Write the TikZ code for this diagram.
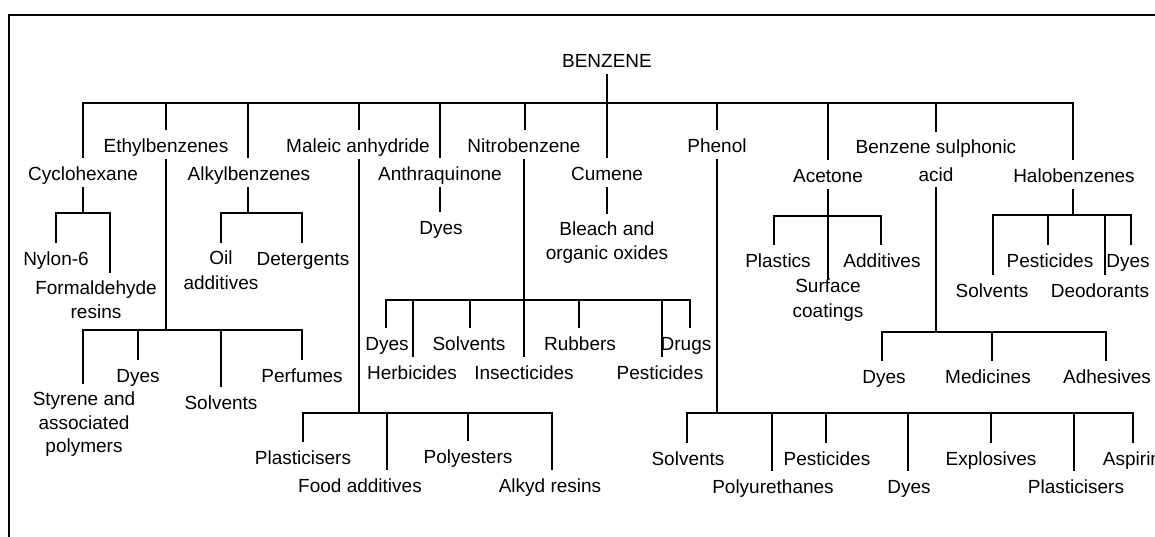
\documentclass[tikz,border=0pt]{standalone}
\usepackage{fontspec}
\setmainfont{Liberation Sans}
\begin{document}
\begin{tikzpicture}[x=1pt,y=-1pt,
  lbl/.style={inner sep=0pt, text height=14pt, text depth=4pt, font=\fontsize{19pt}{23.5pt}\selectfont},
  mlbl/.style={inner sep=0pt, align=center, anchor=north, font=\fontsize{19pt}{23.5pt}\selectfont},
  ln/.style={line width=1.6pt},
  dn/.style={ln, shorten >=8pt},
  up/.style={ln, shorten <=3pt},
  updn/.style={ln, shorten <=3pt, shorten >=8pt},
  bar/.style={ln, shorten <=8pt, shorten >=8pt}]
\useasboundingbox (0,0) rectangle (1155,536);
% frame
\draw[line width=1.8pt] (9,540) -- (9,15) -- (1160,15);

% ---------- nodes ----------
\node[lbl] (benzene) at (607,62) {BENZENE};
\node[lbl] (cyclo) at (83,175) {Cyclohexane};
\node[lbl] (ethyl) at (166,147) {Ethylbenzenes};
\node[lbl] (alkyl) at (249,175) {Alkylbenzenes};
\node[lbl] (maleic) at (358,147) {Maleic anhydride};
\node[lbl] (anthra) at (440,175) {Anthraquinone};
\node[lbl] (nitro) at (524,147) {Nitrobenzene};
\node[lbl] (cumene) at (607,175) {Cumene};
\node[lbl] (phenol) at (717,147) {Phenol};
\node[lbl] (acetone) at (828,177) {Acetone};
\node[mlbl] (bsa) at (936,140) {Benzene sulphonic\\[4.5pt]acid};
\node[lbl] (halo) at (1074,177) {Halobenzenes};

\node[lbl] (nylon) at (56,260) {Nylon-6};
\node[mlbl] (form) at (96,281) {Formaldehyde\\resins};
\node[mlbl] (oil) at (221,251) {Oil\\[1.5pt]additives};
\node[lbl] (deterg) at (303,260) {Detergents};
\node[lbl] (dyes1) at (441,229) {Dyes};
\node[mlbl] (bleach) at (607,222) {Bleach and\\organic oxides};
\node[lbl] (plastics) at (778,262) {Plastics};
\node[lbl] (additives) at (882,262) {Additives};
\node[mlbl] (surface) at (828,279) {Surface\\[1.5pt]coatings};
\node[lbl] (solv4) at (992,292) {Solvents};
\node[lbl] (pest3) at (1050,262) {Pesticides};
\node[lbl] (deod) at (1100,292) {Deodorants};
\node[lbl] (dyes5) at (1128,262) {Dyes};

\node[mlbl] (styrene) at (84,392) {Styrene and\\associated\\polymers};
\node[lbl] (dyes2) at (138,377) {Dyes};
\node[lbl] (solv1) at (221,404) {Solvents};
\node[lbl] (perf) at (302,377) {Perfumes};

\node[lbl] (dyes3) at (387,345) {Dyes};
\node[lbl] (herb) at (412,374) {Herbicides};
\node[lbl] (solv2) at (469,345) {Solvents};
\node[lbl] (insect) at (524,374) {Insecticides};
\node[lbl] (rub) at (580,345) {Rubbers};
\node[lbl] (pest1) at (660,374) {Pesticides};
\node[lbl] (drugs) at (686,345) {Drugs};

\node[lbl] (dyes6) at (884,378) {Dyes};
\node[lbl] (medic) at (988,378) {Medicines};
\node[lbl] (adhes) at (1107,378) {Adhesives};

\node[lbl] (plast1) at (303,459) {Plasticisers};
\node[lbl] (food) at (360,487) {Food additives};
\node[lbl] (polyest) at (468,458) {Polyesters};
\node[lbl] (alkyd) at (550,487) {Alkyd resins};

\node[lbl] (solv3) at (688,460) {Solvents};
\node[lbl] (polyur) at (773,488) {Polyurethanes};
\node[lbl] (pest2) at (827,460) {Pesticides};
\node[lbl] (dyes4) at (909,488) {Dyes};
\node[lbl] (expl) at (991,460) {Explosives};
\node[lbl] (plast2) at (1076,488) {Plasticisers};
\node[lbl] (aspirin) at (1132,460) {Aspirin};

% ---------- main level ----------
\coordinate (bz) at (607,103);
\coordinate (L1) at (83,103);
\coordinate (L2) at (166,103);
\coordinate (L3) at (248,103);
\coordinate (L4) at (359,103);
\coordinate (L5) at (440,103);
\coordinate (L6) at (525,103);
\coordinate (L8) at (717,103);
\coordinate (L9) at (828,103);
\coordinate (L10) at (936,103);
\coordinate (L11) at (1073,103);
\draw[up] (benzene.south) -- (bz);
\draw[bar] (L1 |- cyclo.north) -- (L1) -- (L11) -- (L11 |- halo.north);
\draw[dn] (L2) -- (L2 |- ethyl.north);
\draw[dn] (L3) -- (L3 |- alkyl.north);
\draw[dn] (L4) -- (L4 |- maleic.north);
\draw[dn] (L5) -- (L5 |- anthra.north);
\draw[dn] (L6) -- (L6 |- nitro.north);
\draw[dn] (bz) -- (bz |- cumene.north);
\draw[dn] (L8) -- (L8 |- phenol.north);
\draw[dn] (L9) -- (L9 |- acetone.north);
\draw[dn] (L10) -- (L10 |- bsa.north);

% ---------- Cyclohexane ----------
\coordinate (C0) at (83,213);
\coordinate (C1) at (56,213);
\coordinate (C2) at (110,213);
\draw[up] (C0 |- cyclo.south) -- (C0);
\draw[bar] (C1 |- nylon.north) -- (C1) -- (C2) -- (C2 |- form.north);

% ---------- Alkylbenzenes ----------
\coordinate (A0) at (248,213);
\coordinate (A1) at (221,213);
\coordinate (A2) at (302,213);
\draw[up] (A0 |- alkyl.south) -- (A0);
\draw[bar] (A1 |- oil.north) -- (A1) -- (A2) -- (A2 |- deterg.north);

% ---------- Anthraquinone, Cumene ----------
\draw[updn] (anthra.south) -- (anthra.south |- dyes1.north);
\draw[updn] (cumene.south) -- (cumene.south |- bleach.north);

% ---------- Ethylbenzenes ----------
\coordinate (E0) at (166,330);
\coordinate (E1) at (83,330);
\coordinate (E2) at (138,330);
\coordinate (E3) at (221,330);
\coordinate (E4) at (302,330);
\draw[up] (E0 |- ethyl.south) -- (E0);
\draw[bar] (E1 |- styrene.north) -- (E1) -- (E4) -- (E4 |- perf.north);
\draw[dn] (E2) -- (E2 |- dyes2.north);
\draw[dn] (E3) -- (E3 |- solv1.north);

% ---------- Maleic anhydride ----------
\coordinate (M0) at (359,413);
\coordinate (M1) at (303,413);
\coordinate (M2) at (387,413);
\coordinate (M3) at (468,413);
\coordinate (M4) at (552,413);
\draw[up] (M0 |- maleic.south) -- (M0);
\draw[bar] (M1 |- plast1.north) -- (M1) -- (M4) -- (M4 |- alkyd.north);
\draw[dn] (M2) -- (M2 |- food.north);
\draw[dn] (M3) -- (M3 |- polyest.north);

% ---------- Nitrobenzene ----------
\coordinate (N0) at (524,300);
\coordinate (N1) at (386,300);
\coordinate (N2) at (413,300);
\coordinate (N3) at (470,300);
\coordinate (N5) at (579,300);
\coordinate (N6) at (662,300);
\coordinate (N7) at (690,300);
\draw[updn] (N0 |- nitro.south) -- (N0 |- insect.north);
\draw[bar] (N1 |- dyes3.north) -- (N1) -- (N7) -- (N7 |- drugs.north);
\draw[dn] (N2) -- (N2 |- herb.north);
\draw[dn] (N3) -- (N3 |- solv2.north);
\draw[dn] (N5) -- (N5 |- rub.north);
\draw[dn] (N6) -- (N6 |- pest1.north);

% ---------- Phenol ----------
\coordinate (P0) at (717,413);
\coordinate (P1) at (687,413);
\coordinate (P2) at (772,413);
\coordinate (P3) at (826,413);
\coordinate (P4) at (908,413);
\coordinate (P5) at (991,413);
\coordinate (P6) at (1074,413);
\coordinate (P7) at (1133,413);
\draw[up] (P0 |- phenol.south) -- (P0);
\draw[bar] (P1 |- solv3.north) -- (P1) -- (P7) -- (P7 |- aspirin.north);
\draw[dn] (P2) -- (P2 |- polyur.north);
\draw[dn] (P3) -- (P3 |- pest2.north);
\draw[dn] (P4) -- (P4 |- dyes4.north);
\draw[dn] (P5) -- (P5 |- expl.north);
\draw[dn] (P6) -- (P6 |- plast2.north);

% ---------- Acetone ----------
\coordinate (T0) at (828,216);
\coordinate (T1) at (774,216);
\coordinate (T2) at (881,216);
\draw[up] (T0 |- acetone.south) -- (T0 |- surface.north);
\draw[bar] (T1 |- plastics.north) -- (T1) -- (T2) -- (T2 |- additives.north);

% ---------- Benzene sulphonic acid ----------
\coordinate (S0) at (936,332);
\coordinate (S1) at (882,332);
\coordinate (S2) at (992,332);
\coordinate (S3) at (1106,332);
\draw[ln, shorten <=5pt] (S0 |- bsa.south) -- (S0);
\draw[bar] (S1 |- dyes6.north) -- (S1) -- (S3) -- (S3 |- adhes.north);
\draw[dn] (S2) -- (S2 |- medic.north);

% ---------- Halobenzenes ----------
\coordinate (H0) at (1073,215);
\coordinate (H1) at (993,215);
\coordinate (H2) at (1048,215);
\coordinate (H3) at (1105,215);
\coordinate (H4) at (1131,215);
\draw[up] (H0 |- halo.south) -- (H0);
\draw[bar] (H1 |- solv4.north) -- (H1) -- (H4) -- (H4 |- dyes5.north);
\draw[dn] (H2) -- (H2 |- pest3.north);
\draw[dn] (H3) -- (H3 |- deod.north);
\end{tikzpicture}
\end{document}
